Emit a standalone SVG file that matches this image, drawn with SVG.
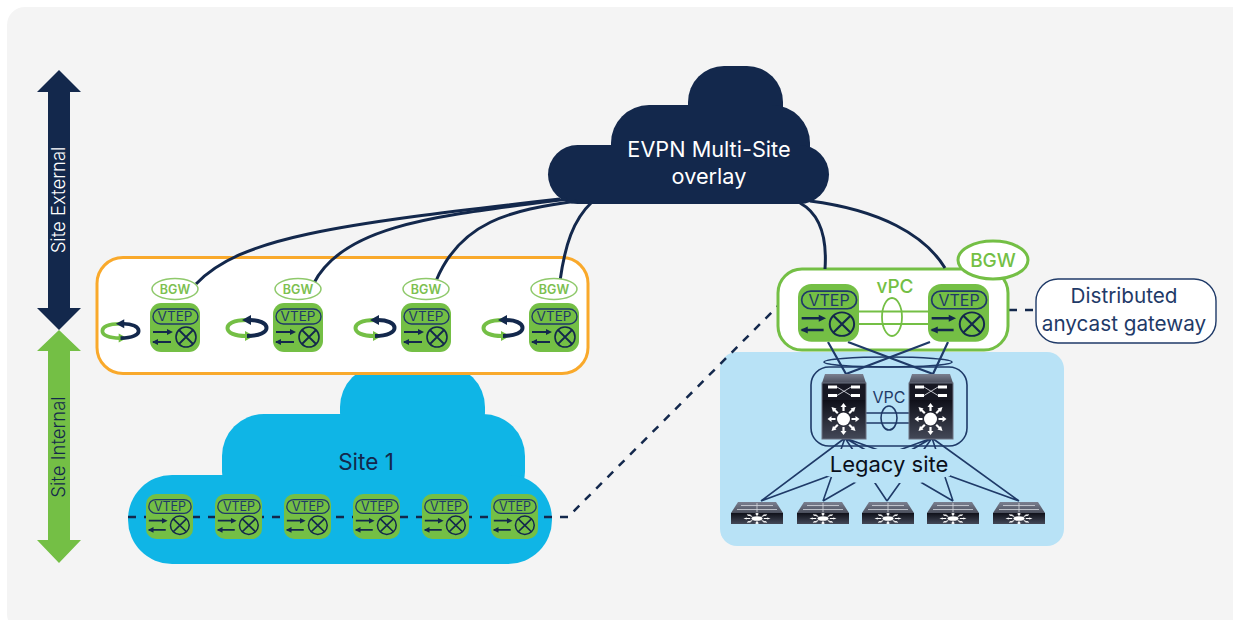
<svg xmlns="http://www.w3.org/2000/svg" xmlns:xlink="http://www.w3.org/1999/xlink" width="1233" height="620" viewBox="0 0 1233 620">
<style>
text{font-family:"Inter","Liberation Sans",sans-serif;text-anchor:middle}
.vt{font-size:13.500px;fill:#1f3a68}
.bg{font-size:12.500px;fill:#7cc04f;font-weight:600}
.dash{stroke:#13284c;fill:none;stroke-width:2.5;stroke-dasharray:8 8}
.curve{stroke:#13284c;fill:none;stroke-width:3}
.mesh{stroke:#1f3a68;fill:none;stroke-width:1.6}
.big{font-size:21.700px}
.gw{font-size:20.700px;fill:#1f3a68}
.ax{font-size:18.500px;font-weight:300}
</style>
<defs>
<linearGradient id="lo" x1="0" y1="0" x2="0" y2="1"><stop offset="0" stop-color="#0f1019"/><stop offset="1" stop-color="#434857"/></linearGradient>
<linearGradient id="top" x1="0" y1="0" x2="0" y2="1"><stop offset="0" stop-color="#7b8090"/><stop offset="1" stop-color="#4a4e5c"/></linearGradient>
<g id="vtep">
<rect width="50" height="49" rx="11" fill="#74bf45"/>
<rect x="3" y="6" width="45" height="15" rx="7.500" fill="none" stroke="#1f3a68" stroke-width="1.4"/>
<path d="M3 29H19M3 39H21" stroke="#13284c" stroke-width="2" fill="none"/>
<path d="M23 29L17 26V32ZM2 39L8 36V42Z" fill="#13284c"/>
<circle cx="36" cy="34" r="10" fill="none" stroke="#13284c" stroke-width="1.6"/>
<path d="M29 27L43 41M43 27L29 41" stroke="#13284c" stroke-width="1.8"/>
</g>
<g id="spin">
<path d="M21 3C7 3 1.500 7 1.500 11C1.500 16 9 19 20 19" fill="none" stroke="#74bf45" stroke-width="4"/>
<path d="M28 19L19 14V24Z" fill="#74bf45"/>
<path d="M21 19C34 19 40.500 15 40.500 11C40.500 6 33 3 24 3" fill="none" stroke="#13284c" stroke-width="4"/>
<path d="M16 3L25 -2V8Z" fill="#13284c"/>
</g>
<g id="star">
<circle r="6.500" fill="#fff"/>
<path d="M0 -8V-13M0 8V13M8 0H13M-8 0H-13M5.700 -5.700L9.500 -9.500M-5.700 -5.700L-9.500 -9.500M5.700 5.700L9.500 9.500M-5.700 5.700L-9.500 9.500" stroke="#fff" stroke-width="2.200"/>
<path d="M0 -16L-3 -12H3ZM0 16L-3 12H3ZM16 0L12 -3V3ZM-16 0L-12 -3V3ZM12 -12L7 -10.500L10.500 -7ZM-12 -12L-7 -10.500L-10.500 -7ZM12 12L7 10.500L10.500 7ZM-12 12L-7 10.500L-10.500 7Z" fill="#fff"/>
</g>
<g id="bigsw">
<path d="M3 0H41L44 9H0Z" fill="url(#top)"/>
<rect y="9" width="44" height="17" fill="#171823"/>
<rect y="26" width="44" height="39" fill="url(#lo)"/>
<rect y="9" width="44" height="56" fill="none" stroke="#6a7080" stroke-width="1"/>
<path d="M6 11.500H15V14.500H6ZM29 11.500H38V14.500H29ZM6 20H15V23H6ZM29 20H38V23H29Z" fill="#fff"/>
<path d="M15 13L29 21.500M15 21.500L29 13" fill="none" stroke="#d0d3da" stroke-width="0.9"/>
<use href="#star" transform="translate(21.500 45)"/>
</g>
<g id="smsw">
<path d="M7 0H45L52 11H0Z" fill="url(#top)"/>
<path d="M10 3.500H42M6 7.500H46M26 1V10" stroke="#d5d8de" stroke-width="0.8" fill="none"/>
<rect y="11" width="52" height="11" fill="url(#lo)"/>
<use href="#star" transform="translate(26 16.500) scale(0.85 0.36)"/>
</g>
</defs>

<rect width="1233" height="620" fill="#fff"/>
<rect x="7" y="7" width="1250" height="625" rx="18" fill="#f4f4f4"/>

<g id="axis-external">
<path d="M59 70L81 92H70V308H81L59 330L37 308H48V92H37Z" fill="#13284c"/>
<text transform="translate(65 200) rotate(-90)" class="ax" fill="#fff">Site External</text>
</g>
<g id="axis-internal">
<path d="M59 330L81 351H70V540H81L59 563L37 540H48V351H37Z" fill="#74bf45"/>
<text transform="translate(65 447) rotate(-90)" class="ax" fill="#13284c">Site Internal</text>
</g>

<g id="evpn-cloud" fill="#13284c">
<rect x="688" y="66" width="95" height="80" rx="36"/>
<rect x="611" y="105" width="199" height="80" rx="38"/>
<rect x="548" y="145" width="281" height="59" rx="29.500"/>
<text x="709" y="157" class="big" fill="#fff">EVPN Multi-Site</text>
<text x="709" y="184" class="big" fill="#fff">overlay</text>
</g>

<g id="site-1" fill="#0fb5e6">
<rect x="340" y="365" width="145" height="90" rx="42"/>
<rect x="222" y="414" width="303" height="100" rx="42"/>
<rect x="128" y="475" width="424" height="89" rx="44"/>
<text x="366" y="470" style="font-size:22.500px" fill="#13284c">Site 1</text>
</g>

<g id="legacy-site-area"><rect x="720" y="352" width="344" height="194" rx="17" fill="#b8e2f6"/></g>

<g id="bgw-cluster-left"><rect x="97" y="257.500" width="491" height="116" rx="26" fill="#fff" stroke="#f9a92b" stroke-width="3"/></g>

<g id="connector-back"><path class="dash" d="M128 517H568L778 306M1009 310H1036"/></g>

<g id="bgw-cluster-right">
<rect x="778" y="269" width="230" height="81" rx="24" fill="#fff" stroke="#74bf45" stroke-width="3"/>
<text x="895" y="293" font-size="19" fill="#74bf45" font-weight="500">vPC</text>
</g>

<g id="connectors">
<path class="curve" d="M196 284C240 238 330 225 560 199"/>
<path class="curve" d="M314 283C345 222 450 215 567 199"/>
<path class="curve" d="M436 281C460 222 510 210 577 201"/>
<path class="curve" d="M560 281C565 245 573 220 592 202"/>
<path class="curve" d="M825 269C827 240 822 215 800 203"/>
<path class="curve" d="M945 268C925 235 880 210 810 201"/>
<path d="M859 311.500H928M859 324H928" stroke="#74bf45" stroke-width="1.800"/>
<ellipse cx="892" cy="317" rx="10" ry="19" fill="none" stroke="#74bf45" stroke-width="1.800"/>
<path class="mesh" d="M828 342L846 374M848 342L933 374M930 342L846 374M948 342L933 374" style="stroke-width:2.200"/>
<ellipse cx="888" cy="362" rx="64" ry="5" class="mesh"/>
<rect x="811" y="367" width="156" height="79" rx="18" class="mesh"/>
<path class="mesh" d="M866 413H909M866 423H909"/>
<ellipse cx="889" cy="418" rx="8" ry="12" class="mesh"/>
<path class="mesh" d="M845 438L761 501M845 438L823 501M845 438L887 501M845 438L953 501M845 438L1019 501M932 438L761 501M932 438L823 501M932 438L887 501M932 438L953 501M932 438L1019 501"/>
</g>

<g id="bgw-1">
<ellipse cx="175" cy="289" rx="23" ry="10.500" fill="#fff" stroke="#8fc96b" stroke-width="1.500"/>
<text x="175" y="294" class="bg">BGW</text>
<use href="#vtep" x="150" y="303"/><text x="175" y="321" class="vt">VTEP</text>
<use href="#spin" transform="translate(101 321) scale(.93 .9)"/>
</g>
<g id="bgw-2">
<ellipse cx="298" cy="289" rx="23" ry="10.500" fill="#fff" stroke="#8fc96b" stroke-width="1.500"/>
<text x="298" y="294" class="bg">BGW</text>
<use href="#vtep" x="273" y="303"/><text x="298" y="321" class="vt">VTEP</text>
<use href="#spin" x="226" y="317"/>
</g>
<g id="bgw-3">
<ellipse cx="426" cy="289" rx="23" ry="10.500" fill="#fff" stroke="#8fc96b" stroke-width="1.500"/>
<text x="426" y="294" class="bg">BGW</text>
<use href="#vtep" x="401" y="303"/><text x="426" y="321" class="vt">VTEP</text>
<use href="#spin" x="354" y="317"/>
</g>
<g id="bgw-4">
<ellipse cx="554" cy="289" rx="23" ry="10.500" fill="#fff" stroke="#8fc96b" stroke-width="1.500"/>
<text x="554" y="294" class="bg">BGW</text>
<use href="#vtep" x="529" y="303"/><text x="554" y="321" class="vt">VTEP</text>
<use href="#spin" x="482" y="317"/>
</g>

<g id="site-vtep-1"><use href="#vtep" transform="translate(146 494) scale(.94 .92)"/><text x="170" y="511" style="font-size:12.500px" class="vt">VTEP</text></g>
<g id="site-vtep-2"><use href="#vtep" transform="translate(215 494) scale(.94 .92)"/><text x="239" y="511" style="font-size:12.500px" class="vt">VTEP</text></g>
<g id="site-vtep-3"><use href="#vtep" transform="translate(284 494) scale(.94 .92)"/><text x="308" y="511" style="font-size:12.500px" class="vt">VTEP</text></g>
<g id="site-vtep-4"><use href="#vtep" transform="translate(353 494) scale(.94 .92)"/><text x="377" y="511" style="font-size:12.500px" class="vt">VTEP</text></g>
<g id="site-vtep-5"><use href="#vtep" transform="translate(422 494) scale(.94 .92)"/><text x="446" y="511" style="font-size:12.500px" class="vt">VTEP</text></g>
<g id="site-vtep-6"><use href="#vtep" transform="translate(491 494) scale(.94 .92)"/><text x="515" y="511" style="font-size:12.500px" class="vt">VTEP</text></g>

<g id="vpc-vtep-left"><use href="#vtep" transform="translate(798 284) scale(1.22 1.18)"/><text x="829" y="306" style="font-size:16px" class="vt">VTEP</text></g>
<g id="vpc-vtep-right"><use href="#vtep" transform="translate(928 284) scale(1.22 1.18)"/><text x="959" y="306" style="font-size:16px" class="vt">VTEP</text></g>

<g id="bgw-badge">
<ellipse cx="993" cy="260" rx="35" ry="19" fill="#fff" stroke="#74bf45" stroke-width="3"/>
<text x="993" y="267" font-size="19" fill="#74bf45" font-weight="500">BGW</text>
</g>

<g id="gateway">
<rect x="1036" y="279" width="180" height="64" rx="22" fill="#fff" stroke="#1f3a68" stroke-width="1.400"/>
<text x="1124" y="303" class="gw">Distributed</text>
<text x="1124" y="331" class="gw">anycast gateway</text>
</g>

<g id="switch-left"><use href="#bigsw" x="822" y="374"/></g>
<g id="switch-right"><use href="#bigsw" x="909" y="374"/></g>
<g id="vpc-label"><text x="889" y="403" font-size="16" fill="#1f3a68">VPC</text></g>
<g id="legacy-label">
<path d="M835 449H943L952 460L950 476L920 483H857L827 476L827 463Z" fill="#b8e2f6"/>
<text x="889" y="472" style="font-size:22px" fill="#0a0f1a">Legacy site</text>
</g>
<g id="leaf-1"><use href="#smsw" x="731" y="502"/></g>
<g id="leaf-2"><use href="#smsw" x="797" y="502"/></g>
<g id="leaf-3"><use href="#smsw" x="862" y="502"/></g>
<g id="leaf-4"><use href="#smsw" x="927" y="502"/></g>
<g id="leaf-5"><use href="#smsw" x="993" y="502"/></g>
</svg>
